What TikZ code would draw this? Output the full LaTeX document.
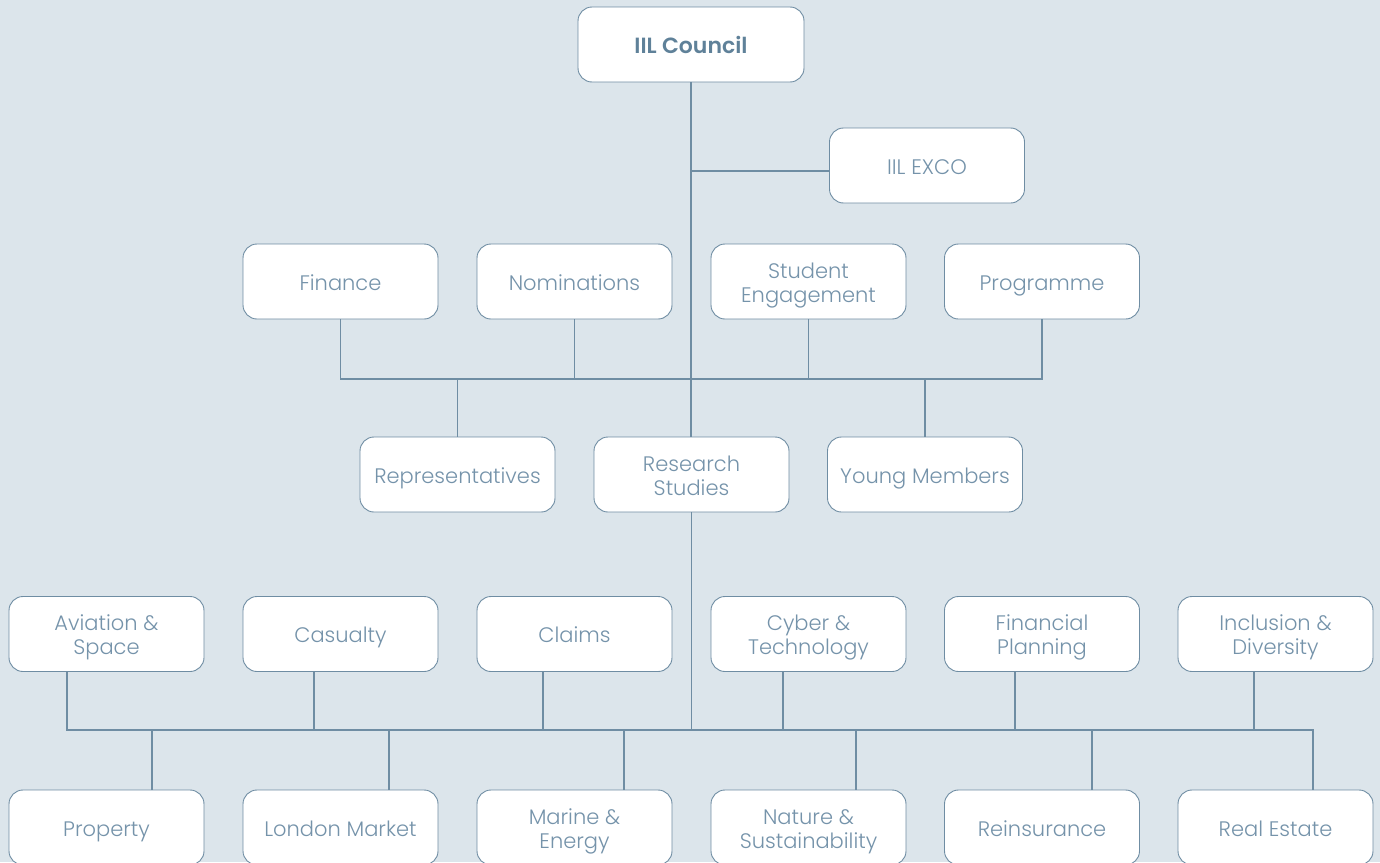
\documentclass[tikz,border=0pt]{standalone}
\usepackage{fontspec}
\setmainfont{Poppins}[UprightFont=* Light, BoldFont=* SemiBold]
\definecolor{bgc}{HTML}{DCE5EB}
\definecolor{linec}{HTML}{6F8DA3}
\definecolor{textc}{HTML}{7593AA}
\definecolor{boldc}{HTML}{5F8199}
\newcommand\lstrut{\rule[-8pt]{0pt}{33pt}}
\newcommand\ftop{\rule{0pt}{25pt}}
\newcommand\fbot{\rule[-6pt]{0pt}{6pt}}
\begin{document}
\begin{tikzpicture}[x=1pt,y=-1pt,
  box/.style={draw=linec, fill=white, rounded corners=14pt, minimum width=195pt, minimum height=75pt,
    line width=0.9pt, text=textc, align=center, inner sep=0pt, font=\fontsize{21}{24}\selectfont,
    execute at begin node=\lstrut, execute at end node=\lstrut},
  conn/.style={draw=linec, line width=1.5pt}]
\fill[bgc] (0,0) rectangle (1380,862);
\useasboundingbox (0,0) rectangle (1380,862);
% top
\node[box, minimum width=226pt, font=\fontsize{22}{24}\selectfont\bfseries, text=boldc] (council) at (691,44.5) {IIL Council};
\node[box] (exco) at (927,165.5) {IIL EXCO};
% row 2
\node[box] (fin) at (340.5,281.5) {Finance};
\node[box] (nom) at (574.5,281.5) {Nominations};
\node[box] (stu) at (808.5,281.5) {\ftop Student\\Engagement\fbot};
\node[box] (prog) at (1042,281.5) {Programme};
% row 3
\node[box] (rep) at (457.5,474.5) {Representatives};
\node[box] (res) at (691.5,474.5) {\ftop Research\\Studies\fbot};
\node[box] (young) at (925,474.5) {Young Members};
% row 4
\node[box] (avi) at (106.5,634) {\ftop Aviation \&\\Space\fbot};
\node[box] (cas) at (340.5,634) {Casualty};
\node[box] (cla) at (574.5,634) {Claims};
\node[box] (cyb) at (808.5,634) {\ftop Cyber \&\\Technology\fbot};
\node[box] (fpl) at (1042,634) {\ftop Financial\\Planning\fbot};
\node[box] (inc) at (1275.5,634) {\ftop Inclusion \&\\Diversity\fbot};
% row 5
\node[box] (pro) at (106.5,827.5) {Property};
\node[box] (lon) at (340.5,827.5) {London Market};
\node[box] (mar) at (574.5,827.5) {\ftop Marine \&\\Energy\fbot};
\node[box] (nat) at (808.5,827.5) {\ftop Nature \&\\Sustainability\fbot};
\node[box] (rei) at (1042,827.5) {Reinsurance};
\node[box] (rea) at (1275.5,827.5) {Real Estate};
% coordinates
\coordinate (exj) at (691,171);
\coordinate (b1) at (0,379);
\coordinate (b2) at (0,730);
% connectors
\draw[conn] (council.south) -- (council.south |- res.north);
\draw[conn] (exj) -- (exco.west |- exj);
\draw[conn] (fin.south) -- (fin.south |- b1) -- (prog.south |- b1) -- (prog.south);
\draw[conn] (nom.south) -- (nom.south |- b1);
\draw[conn] (stu.south) -- (stu.south |- b1);
\draw[conn] (rep.north) -- (rep.north |- b1);
\draw[conn] (young.north) -- (young.north |- b1);
\draw[conn] (res.south) -- (res.south |- b2);
\coordinate (aviS) at ([xshift=-39.5pt]avi.south);
\coordinate (reaN) at ([xshift=37.5pt]rea.north);
\draw[conn] (aviS) -- (aviS |- b2) -- (reaN |- b2) -- (reaN);
\draw[conn] ([xshift=-26.5pt]cas.south) -- ([xshift=-26.5pt]cas.south |- b2);
\draw[conn] ([xshift=-31.5pt]cla.south) -- ([xshift=-31.5pt]cla.south |- b2);
\draw[conn] ([xshift=-25.5pt]cyb.south) -- ([xshift=-25.5pt]cyb.south |- b2);
\draw[conn] ([xshift=-27pt]fpl.south) -- ([xshift=-27pt]fpl.south |- b2);
\draw[conn] ([xshift=-21.5pt]inc.south) -- ([xshift=-21.5pt]inc.south |- b2);
\draw[conn] ([xshift=45.5pt]pro.north) -- ([xshift=45.5pt]pro.north |- b2);
\draw[conn] ([xshift=48.5pt]lon.north) -- ([xshift=48.5pt]lon.north |- b2);
\draw[conn] ([xshift=49.5pt]mar.north) -- ([xshift=49.5pt]mar.north |- b2);
\draw[conn] ([xshift=47.5pt]nat.north) -- ([xshift=47.5pt]nat.north |- b2);
\draw[conn] ([xshift=50pt]rei.north) -- ([xshift=50pt]rei.north |- b2);
\end{tikzpicture}
\end{document}
